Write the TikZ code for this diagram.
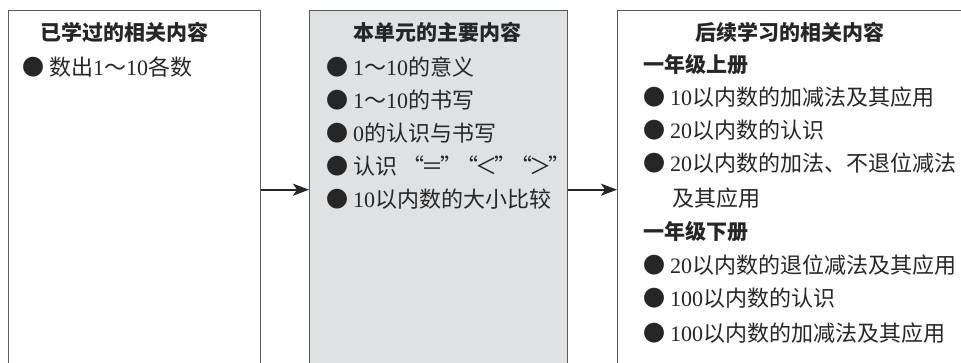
\documentclass[tikz,border=0pt]{standalone}
\usepackage{fontspec}
\setmainfont{Liberation Serif}
\newfontfamily\cjk{Noto Sans CJK SC}
\usetikzlibrary{arrows.meta}
\definecolor{boxline}{HTML}{5A5A5A}
\definecolor{midfill}{HTML}{E0E1E3}
\definecolor{ink}{HTML}{262626}
\newcommand\zh[1]{{\cjk #1}}
\newcommand\bul{{\cjk ●}\hspace{5pt}}
\newcommand\tk{\hspace{-3pt}}
\tikzset{
  panel/.style={draw=boxline, line width=1.4pt, minimum height=358pt, inner sep=0pt, anchor=north west},
  ttl/.style={anchor=west, inner sep=0pt, text=ink, font=\cjk\bfseries\fontsize{21}{21}\selectfont},
  item/.style={anchor=west, inner sep=0pt, text=ink, font=\fontsize{22}{22}\selectfont},
  flow/.style={draw=black!85, line width=2pt, -{Stealth[length=16pt,width=12pt,inset=4pt]}}
}
\begin{document}
\begin{tikzpicture}[x=1pt,y=-1pt]
\useasboundingbox (0,0) rectangle (961,363);
\clip (0,0) rectangle (961,363);
\node[panel, minimum width=252pt] (left) at (8,10) {};
\node[panel, minimum width=258pt, fill=midfill] (mid) at (309,10) {};
\node[panel, minimum width=360pt] (right) at (617,10) {};
\draw[flow] (left.east) -- (mid.west);
\draw[flow] (mid.east) -- (right.west);
% left
\node[ttl] (lt) at (40,32) {已学过的相关内容};
\node[item] (l1) at (22,67) {\bul\zh{数出}1\zh{～}10\zh{各数}};
% middle
\node[ttl] (mt) at (353,32) {本单元的主要内容};
\node[item] (m1) at (326,67) {\bul 1\zh{～}10\zh{的意义}};
\node[item] (m2) at (326,100) {\bul 1\zh{～}10\zh{的书写}};
\node[item] (m3) at (326,133) {\bul 0\zh{的认识与书写}};
\node[item] (m4) at (326,166) {\bul\zh{认识 “\tk＝\tk”\hspace{-6pt}“\tk＜\tk”\hspace{-6pt}“\tk＞\tk”}};
\node[item] (m5) at (326,199) {\bul 10\zh{以内数的大小比较}};
% right
\node[ttl] (rt) at (695,32) {后续学习的相关内容};
\node[ttl] (rh1) at (643,65) {一年级上册};
\node[item] (r1) at (643,97) {\bul 10\zh{以内数的加减法及其应用}};
\node[item] (r2) at (643,130) {\bul 20\zh{以内数的认识}};
\node[item] (r3) at (643,163) {\bul 20\zh{以内数的加法、不退位减法}};
\node[item] (r3b) at (672,198) {\zh{及其应用}};
\node[ttl] (rh2) at (643,232) {一年级下册};
\node[item] (r4) at (643,265) {\bul 20\zh{以内数的退位减法及其应用}};
\node[item] (r5) at (643,298) {\bul 100\zh{以内数的认识}};
\node[item] (r6) at (643,333) {\bul 100\zh{以内数的加减法及其应用}};
\end{tikzpicture}
\end{document}
